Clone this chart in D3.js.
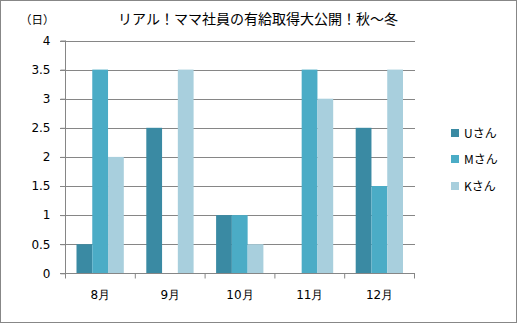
<!DOCTYPE html>
<html><head><meta charset="utf-8">
<script src="https://cdn.jsdelivr.net/npm/d3@7"></script>
<style>body{margin:0;background:#fff}svg{display:block}</style>
</head><body>
<script>
const categories = ["8月","9月","10月","11月","12月"];
const seriesNames = ["Uさん","Mさん","Kさん"];
const uValues = [0.5, 2.5, 1, 0, 2.5];
const mValues = [3.5, 0, 1, 3.5, 1.5];
const kValues = [2, 3.5, 0.5, 3, 3.5];
const yTicks = [0,0.5,1,1.5,2,2.5,3,3.5,4];
const yTickLabels = ["0","0.5","1","1.5","2","2.5","3","3.5","4"];
const colors = ["#3A8AA3","#4BACC6","#A8CFDD"];
const title = "リアル！ママ社員の有給取得大公開！秋～冬";
const unit = "（日）";

const W=517,H=323;
const svg=d3.select("body").append("svg").attr("width",W).attr("height",H);
svg.append("rect").attr("x",0.5).attr("y",0.5).attr("width",W-1).attr("height",H-1).attr("fill","#fff").attr("stroke","#878787");

const x0=d3.scaleBand().domain(categories).range([65.5,414.5]).paddingInner(0).paddingOuter(0);
const x1=d3.scaleBand().domain(seriesNames).range([11,x0.bandwidth()-11.5]);
const y=d3.scaleLinear().domain([0,4]).range([273.3,40.5]);
const font="'DejaVu Sans', Verdana, sans-serif";

// gridlines
svg.append("g").selectAll("line").data(yTicks).join("line")
 .attr("x1",60).attr("x2",415).attr("y1",d=>Math.round(y(d))+0.5).attr("y2",d=>Math.round(y(d))+0.5)
 .attr("stroke","#868686").attr("stroke-width",1);

const seriesData=[uValues,mValues,kValues];
const g=svg.append("g");
seriesData.forEach((vals,si)=>{
  g.selectAll(null).data(vals).join("rect")
   .attr("x",(d,i)=>x0(categories[i])+x1(seriesNames[si]))
   .attr("width",x1.bandwidth())
   .attr("y",d=>y(d))
   .attr("height",d=>y(0)-y(d))
   .attr("fill",colors[si]);
});

// y axis
const ya=svg.append("g").attr("transform","translate(65.5,0)")
 .call(d3.axisLeft(y).tickValues(yTicks).tickFormat((d,i)=>yTickLabels[i]).tickSize(5).tickPadding(10));
ya.select(".domain").attr("stroke","#868686").attr("d","M0,"+y(0)+"V"+y(4));
ya.selectAll(".tick line").attr("stroke","#868686");
ya.selectAll("text").attr("font-family",font).attr("font-size",12).attr("fill","#000");

// x axis
const xa=svg.append("g").attr("transform","translate(0,"+(Math.round(y(0))+0.5)+")")
 .call(d3.axisBottom(x0).tickSize(0).tickPadding(17));
xa.select(".domain").attr("stroke","#868686").attr("d","M65.5,0H414.5");
xa.selectAll(".tick text").attr("font-family",font).attr("font-size",12).attr("fill","#000");
// category boundary ticks
svg.append("g").selectAll("line").data(categories.concat(["end"])).join("line")
 .attr("x1",(d,i)=>i<categories.length?x0(d):x0.range()[1])
 .attr("x2",(d,i)=>i<categories.length?x0(d):x0.range()[1])
 .attr("y1",Math.round(y(0))+0.5).attr("y2",Math.round(y(0))+5.5)
 .attr("stroke","#868686");

// title
svg.append("text").attr("x",258).attr("y",24).attr("text-anchor","middle")
 .attr("font-family","'Noto Sans CJK JP', sans-serif").attr("font-size",14).attr("fill","#000").text(title);
svg.append("text").attr("x",20).attr("y",24)
 .attr("font-family","'Noto Sans CJK JP', sans-serif").attr("font-size",11.5).attr("fill","#000").text(unit);

// legend
const lg=svg.append("g");
const ly=[133,159,186];
seriesNames.forEach((n,i)=>{
  lg.append("rect").attr("x",451).attr("y",ly[i]-4).attr("width",8).attr("height",8).attr("fill",colors[i]);
  lg.append("text").attr("x",464).attr("y",ly[i]+4.5)
   .attr("font-family","'Noto Sans CJK JP', sans-serif").attr("font-size",12).attr("fill","#000").text(n);
});
</script>
</body></html>
